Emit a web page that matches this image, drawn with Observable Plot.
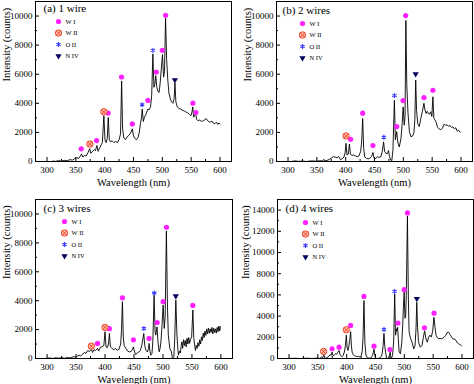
<!DOCTYPE html>
<html><head><meta charset="utf-8">
<script src="https://cdn.jsdelivr.net/npm/d3@7"></script>
<script src="https://cdn.jsdelivr.net/npm/@observablehq/plot@0.6"></script>
<style>
body{margin:0;background:#fff;}
#wrap{position:relative;width:474px;height:384px;overflow:hidden;background:#fff;}
#wrap svg{position:absolute;overflow:visible;}
</style></head><body><div id="wrap"></div>
<script>
// ---------- data ----------
const xMajor = [300, 350, 400, 450, 500, 550, 600];
const xMinor = [325, 375, 425, 475, 525, 575];
const yMajor11 = [0, 2000, 4000, 6000, 8000, 10000];
const yMajor15 = [0, 2000, 4000, 6000, 8000, 10000, 12000, 14000];
const legendLabels = ["W I", "W II", "O II", "N IV"];
const panelLabels = ["(a) 1 wire", "(b) 2 wires", "(c) 3 wires", "(d) 4 wires"];
const xTitle = "Wavelength (nm)";
const yTitle = "Intensity (counts)";

// spectra [wavelength nm, counts]
const specA = [[310,30],[315,10],[320,60],[325,20],[330,80],[335,50],[340,130],[344,90],[348,200],[352,260],[355,220],[358,380],[360,520],[362,300],[365,420],[368,380],[371,600],[374,880],[376,560],[379,700],[382,820],[384,750],[386.5,1100],[388.5,700],[391,900],[394,1150],[396,1300],[398.6,3150],[400.5,1500],[402.5,1300],[404.5,1600],[406.2,3030],[408,1500],[410,1350],[413,1420],[416,1300],[419,1380],[422,1300],[425,1500],[427.5,1900],[429.4,5540],[431,2300],[433,1650],[436,1500],[439,1700],[442,1800],[445,1950],[448,2250],[450,1750],[452,1600],[455,1500],[458,1650],[460,2000],[462,2600],[463.8,3000],[465.2,3600],[467,2750],[469,3050],[471,3200],[473,3400],[475,3600],[477,3550],[479.5,3750],[481.5,4500],[483.6,7400],[485.4,5100],[487,5300],[488.6,5900],[490.5,5100],[492.5,4800],[494.5,4750],[496.5,5500],[498.5,6500],[500.3,7350],[502.2,5800],[503.8,6200],[505.6,9850],[507.5,7000],[509.5,5600],[511.5,4700],[514,4300],[516,4100],[518.5,4000],[520.5,4350],[521.9,5400],[523.5,4100],[526,3750],[529,3650],[532,3600],[535,3520],[538,3480],[541,3400],[544,3350],[547,3250],[549.5,3150],[551.5,3400],[552.8,3750],[554.3,3050],[556,3150],[557.8,3300],[559.5,2900],[562,2800],[565,2850],[568,2750],[571,2800],[574,2880],[576,2950],[578,2850],[580,2750],[583,2700],[586,2780],[588,2650],[591,2600],[594,2700],[596,2550],[598,2650],[600,2580]];
const specB = [[305,0],[312,40],[318,10],[325,30],[332,0],[340,40],[348,20],[355,50],[360,40],[362,150],[364,40],[368,80],[372,150],[376,260],[379,330],[382,300],[385,250],[388,350],[391,120],[394,200],[397,300],[399,600],[400.6,1250],[402.2,450],[404.5,500],[406.5,1200],[408.3,500],[411,420],[414,450],[417,380],[420,330],[423,380],[426,700],[427.8,1400],[429.5,2950],[431.2,900],[433,320],[436,220],[439,180],[442,220],[445,350],[447.2,620],[449,260],[452,200],[455,330],[458,280],[461,320],[463.5,700],[465.8,1350],[467.5,700],[470,550],[472.5,550],[474.3,750],[476,350],[478,100],[480,50],[482,800],[484.5,4200],[486.2,1500],[488.5,2050],[490.5,1300],[493,1000],[496,1600],[498,2600],[499.7,3750],[501.6,2500],[503,3100],[504.4,9700],[506,5300],[508,3400],[510.5,2050],[513.3,1700],[516,1750],[518.5,2000],[520,2900],[521.5,5600],[523,3500],[525,2600],[527.7,2400],[530.5,3000],[533,3450],[535.8,4000],[537.5,3550],[539.5,3300],[541.5,3450],[543.5,3300],[545.5,3250],[547.5,3420],[549.5,3100],[551.3,4450],[553,2950],[555,2850],[557,2700],[559.3,2350],[562,2250],[565,2180],[568,2300],[571,2580],[573.5,2480],[576,2520],[578.5,2420],[581,2480],[583.5,2350],[586,2380],[588.5,2250],[591,2320],[593.5,2080],[596,2150],[598.5,2020]];
const specC = [[298,10],[305,40],[310,0],[315,50],[320,20],[325,60],[330,10],[335,70],[340,40],[345,120],[350,100],[355,230],[358,180],[362,330],[365,420],[367,350],[370,550],[373,480],[376.5,650],[378.5,420],[381,600],[384,560],[387,700],[389,520],[392,780],[395,820],[398,900],[400,1850],[401.8,800],[404,750],[406,1000],[407.6,1730],[409.2,800],[412,700],[415,620],[418,680],[421,580],[424,620],[427,1000],[428.5,2000],[430,3930],[431.5,1500],[433,900],[436,700],[439,520],[442,460],[445,480],[447.5,650],[449,800],[451,450],[453,280],[456,400],[458.8,460],[461,550],[463.5,920],[466.9,1730],[468.5,900],[470.4,580],[473.2,450],[475,700],[476.1,1040],[477.5,500],[479,230],[481,350],[482.5,1200],[484.7,4390],[486.3,1900],[487.5,1620],[489.7,2190],[491.5,1100],[493.4,460],[495,700],[496.5,1150],[498.5,2400],[500.3,3700],[502.2,2080],[503.8,2900],[505.9,8820],[507.8,3500],[509.2,1620],[511.9,690],[514.6,460],[516.4,0],[518.8,120],[520.3,1400],[522.2,4040],[524,1700],[525.5,800],[526.7,230],[528.5,500],[530,380],[531.5,900],[532.6,1150],[534,700],[535.5,1300],[537,900],[538.5,1250],[540,800],[541.5,1400],[543,1000],[544.5,1450],[546,1050],[547.5,1300],[549.5,1500],[551.6,3350],[553.2,1400],[554.5,1000],[556,550],[557.5,900],[559,700],[560.5,1100],[562,850],[563.5,1300],[565,1000],[566.5,1500],[568,1250],[569.5,1750],[571,1450],[572.5,1900],[574,1600],[575.5,2050],[577,1700],[578.5,2100],[580,1750],[581.5,2050],[583,1800],[584.5,2150],[586,1700],[587.5,2100],[589,1800],[590.5,2050],[592,1750],[593.5,2150],[595,1850],[596.5,2250],[598,1900],[599,2200]];
const specD = [[300,0],[310,20],[320,0],[330,30],[340,0],[350,40],[353,0],[356.3,130],[358.5,80],[360.3,350],[362,60],[364,20],[367.8,150],[371.2,350],[373,300],[374.7,600],[376.5,250],[378.5,350],[380.4,450],[382.5,400],[384,540],[386.8,760],[388.5,350],[390.5,250],[392,160],[394,300],[396,600],[397.8,1200],[399.4,2200],[400.8,1000],[402.3,760],[404,1230],[405.5,1800],[406.9,2530],[408.2,1200],[409.5,600],[411.5,350],[414,250],[417,190],[420.5,200],[423,150],[425.3,280],[427,700],[428.3,1860],[430,5470],[431.6,1500],[433.5,300],[436,60],[439,30],[442,50],[444.9,280],[446.3,600],[447.4,880],[448.5,400],[450,50],[453,0],[457.6,50],[460,200],[461.6,450],[463.2,1200],[464.7,2370],[466.2,1100],[467.5,600],[469.1,50],[472,0],[474.3,300],[475.4,600],[476.5,200],[477.5,0],[479.5,280],[481.5,1600],[483.3,6100],[484.8,2200],[486.4,2800],[487.3,2600],[488.3,2940],[489.5,1900],[491,600],[493.3,450],[495.6,1500],[497.2,3200],[498.3,4700],[499.7,6260],[501.1,3800],[502.3,4000],[503.4,5950],[505.4,13430],[507,5800],[508.2,2600],[509.5,2170],[511.1,1860],[513.4,1540],[516.3,910],[518.6,1200],[520.3,2800],[521.6,5300],[523,2900],[524.5,1700],[525.5,1390],[527.8,1070],[530.7,1250],[533,2000],[535.2,2620],[537.6,1850],[539.9,1540],[542.2,2020],[544.5,2200],[546.8,2020],[549.2,2600],[551.4,3890],[553.3,2900],[555,2200],[556.6,2020],[559.5,1860],[562,1900],[565.2,1860],[569.3,2020],[572,2200],[574,2430],[576.7,2490],[578.5,2350],[580.5,2150],[584.2,1860],[588.3,1800],[591.1,1550],[594,1390],[597,1300],[599.2,1200]];

// line markers [wavelength nm, counts]
const wIA = [[359.3,870],[386,1440],[406,3330],[429.3,5810],[448,2580],[475,4200],[489.5,6150],[500,7640],[505.7,10050],[553,4010],[558.3,3370]];
const wIIA = [[374.3,1200],[398.6,3420]];
const oIIA = [[465,3900],[483.6,7640]];
const nIVA = [[521.8,5600]];
const wIB = [[408.5,1530],[429.5,3320],[447.2,1100],[488.6,2400],[499.5,4190],[504.1,10030],[535.8,4400],[551.3,4900]];
const wIIB = [[400.7,1760]];
const oIIB = [[466.2,1670],[484.6,4530]];
const nIVB = [[521.4,6020]];
const wIC = [[387,1040],[407.5,2060],[430,4200],[449,1290],[476,1390],[490,2490],[500.3,3930],[506,9080],[551.5,3670]];
const wIIC = [[376.5,855],[400,2150]];
const oIIC = [[467,2080],[485,4530]];
const nIVC = [[522.2,4320]];
const wID = [[374.7,920],[386.8,1070],[406.8,3120],[429.9,5860],[447.4,1165],[475,850],[488.9,3340],[499.8,6490],[505.5,13730],[534.9,2900],[551.6,4280]];
const wIID = [[360,660],[399.4,2710]];
const oIID = [[464.7,2740],[483.1,6330]];
const nIVD = [[521.7,5640]];

// ---------- drawing ----------
const FONT = "'Times New Roman', 'Liberation Serif', 'DejaVu Serif', serif";
const styles = [
  {fill: "#ff22ff", stroke: "none", r: 2.6},
  null,
  {symbol: "asterisk", stroke: "#3535ff", strokeWidth: 1.1, r: 2.3},
  {symbol: "triangle", fill: "#00005a", stroke: "none", r: 2.3, rotate: 180}
];
function markerMarks(data, kind, extra) {
  const pos = extra || {x: d => d[0], y: d => d[1]};
  if (kind === 1) {
    return [
      Plot.dot(data, {...pos, r: 3.2, fill: "#ffc2b2", stroke: "#ee3a1c", strokeWidth: 0.9}),
      Plot.dot(data, {...pos, symbol: "times", r: 2.3, stroke: "#ee3a1c", strokeWidth: 0.9})
    ];
  }
  return [Plot.dot(data, {...pos, ...styles[kind]})];
}

function panel(cfg) {
  const legend = [];
  legendLabels.forEach((lab, i) => {
    const pos = {frameAnchor: "top-left", dx: cfg.lx, dy: cfg.ly + i * 11.5};
    legend.push(...markerMarks([lab], i, pos));
    legend.push(Plot.text([lab], {frameAnchor: "top-left", dx: cfg.lx + 7, dy: cfg.ly + i * 11.5, text: d => d, textAnchor: "start", lineAnchor: "middle", fontSize: 6.5, fontFamily: FONT, fill: "#000"}));
  });
  const yMajor = cfg.ymax > 12000 ? yMajor15 : yMajor11;
  const yMinor = d3.range(1000, cfg.ymax, 2000);
  const fmt = d3.format("d");
  const svg = Plot.plot({
    width: 237, height: 192,
    marginLeft: cfg.ml, marginRight: cfg.mr, marginTop: cfg.mt, marginBottom: cfg.mb,
    x: {domain: [280, 620]},
    y: {domain: [0, cfg.ymax]},
    style: {background: "transparent", color: "#000"},
    marks: [
      Plot.axisX({ticks: xMajor, tickSize: 0, tickPadding: 5, fontSize: 9, fontFamily: FONT, tickFormat: fmt, label: null}),
      Plot.axisX({ticks: xMajor, tickSize: -4, tickFormat: () => "", label: null}),
      Plot.axisX({ticks: xMinor, tickSize: -2, tickFormat: () => "", label: null}),
      Plot.axisY({ticks: yMajor, tickSize: 0, tickPadding: 3, fontSize: 9, fontFamily: FONT, tickFormat: fmt, label: null}),
      Plot.axisY({ticks: yMajor, tickSize: -4, tickFormat: () => "", label: null}),
      Plot.axisY({ticks: yMinor, tickSize: -2, tickFormat: () => "", label: null}),
      Plot.frame({stroke: "#000", strokeWidth: 1}),
      Plot.line(cfg.spec, {x: d => d[0], y: d => d[1], stroke: "#000", strokeWidth: 0.9}),
      ...markerMarks(cfg.wI, 0),
      ...markerMarks(cfg.wII, 1),
      ...markerMarks(cfg.oII, 2),
      ...markerMarks(cfg.nIV, 3),
      ...legend,
      Plot.text([cfg.label], {frameAnchor: "top-left", dx: cfg.tx, dy: cfg.ty, text: d => d, textAnchor: "start", lineAnchor: "middle", fontSize: 11, fontFamily: FONT, fill: "#000"}),
      Plot.text([xTitle], {frameAnchor: "bottom", dy: 21, text: d => d, lineAnchor: "middle", fontSize: 10.5, fontFamily: FONT, fill: "#000"}),
      Plot.text([yTitle], {frameAnchor: "left", dx: cfg.ydx, rotate: -90, text: d => d, lineAnchor: "middle", fontSize: 10.5, fontFamily: FONT, fill: "#000"})
    ]
  });
  svg.style.fontFamily = FONT;
  return svg;
}

const panels = [
  {left: 0, top: 0, ml: 35, mr: 6, mt: 1, mb: 31, ymax: 11000, spec: specA, wI: wIA, wII: wIIA, oII: oIIA, nIV: nIVA, label: panelLabels[0], tx: 8, ty: 7, lx: 23, ly: 20, ydx: -29},
  {left: 237, top: 0, ml: 39, mr: 2, mt: 1, mb: 31, ymax: 11000, spec: specB, wI: wIB, wII: wIIB, oII: oIIB, nIV: nIVB, label: panelLabels[1], tx: 6, ty: 9, lx: 26, ly: 22, ydx: -29},
  {left: 0, top: 192, ml: 35, mr: 5, mt: 7, mb: 26, ymax: 11000, spec: specC, wI: wIC, wII: wIIC, oII: oIIC, nIV: nIVC, label: panelLabels[2], tx: 8, ty: 9, lx: 29, ly: 22, ydx: -29},
  {left: 237, top: 192, ml: 40, mr: 1, mt: 7, mb: 26, ymax: 15000, spec: specD, wI: wID, wII: wIID, oII: oIID, nIV: nIVD, label: panelLabels[3], tx: 8, ty: 9, lx: 28, ly: 23, ydx: -32}
];
const wrap = document.getElementById("wrap");
for (const p of panels) {
  const svg = panel(p);
  svg.style.left = p.left + "px";
  svg.style.top = p.top + "px";
  wrap.appendChild(svg);
}
</script></body></html>
